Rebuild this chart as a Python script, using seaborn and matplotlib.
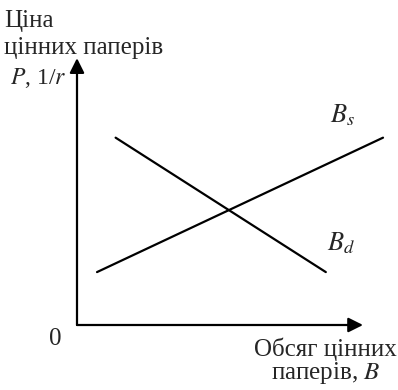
import matplotlib
matplotlib.use('Agg')
import numpy as np
import pandas as pd
import seaborn as sns
import matplotlib.pyplot as plt

sns.set_theme(style='white')
plt.rcParams['font.family'] = ['Liberation Serif', 'DejaVu Serif']
plt.rcParams['mathtext.fontset'] = 'stix'

# Data (arbitrary units, origin at the axes corner)
supply_B = [0.7, 10.7]
supply_P = [1.85, 6.55]
demand_B = [1.35, 8.7]
demand_P = [6.55, 1.85]
curve_names = ['Bs', 'Bd']
axis_len_B = 10.0
axis_len_P = 9.33

df = pd.DataFrame({
    'B': supply_B + demand_B,
    'P': supply_P + demand_P,
    'curve': [curve_names[0]] * len(supply_B) + [curve_names[1]] * len(demand_B),
})

W, H = 398, 390
px = 28.6  # pixels per data unit
ox, oy = 77, 325  # pixel position of the origin

fig = plt.figure(figsize=(W / 100, H / 100), dpi=100)
ax = fig.add_axes([0, 0, 1, 1])
ax.set_xlim(-ox / px, (W - ox) / px)
ax.set_ylim(-(H - oy) / px, oy / px)
ax.axis('off')

sns.lineplot(data=df, x='B', y='P', hue='curve', palette={'Bs': 'black', 'Bd': 'black'},
             legend=False, linewidth=1.6, ax=ax)

# axes with arrows
arrow = dict(arrowstyle='-|>', lw=1.6, color='black', mutation_scale=22, shrinkA=0, shrinkB=0)
ax.annotate('', xy=(axis_len_B, 0), xytext=(0, 0), arrowprops=arrow)
ax.annotate('', xy=(0, axis_len_P), xytext=(0, 0), arrowprops=arrow)


def fx(x):
    return x / W


def fy(y):
    return 1 - y / H


fs = 18
fig.text(fx(4), fy(27), 'Ціна', fontsize=fs, va='baseline', ha='left')
fig.text(fx(4), fy(54), 'цінних паперів', fontsize=fs, va='baseline', ha='left')
fig.text(fx(10), fy(84), '$P$, 1/$r$', fontsize=fs - 1, va='baseline', ha='left')
fig.text(fx(55), fy(345), '0', fontsize=fs, va='baseline', ha='center')
fig.text(fx(325), fy(356), 'Обсяг цінних', fontsize=fs, va='baseline', ha='center')
fig.text(fx(326), fy(379), 'паперів, $B$', fontsize=fs, va='baseline', ha='center')
fig.text(fx(330), fy(122), '$B_s$', fontsize=fs + 1, va='baseline', ha='left')
fig.text(fx(327), fy(250), '$B_d$', fontsize=fs + 1, va='baseline', ha='left')

fig.savefig('out.png', dpi=100)
